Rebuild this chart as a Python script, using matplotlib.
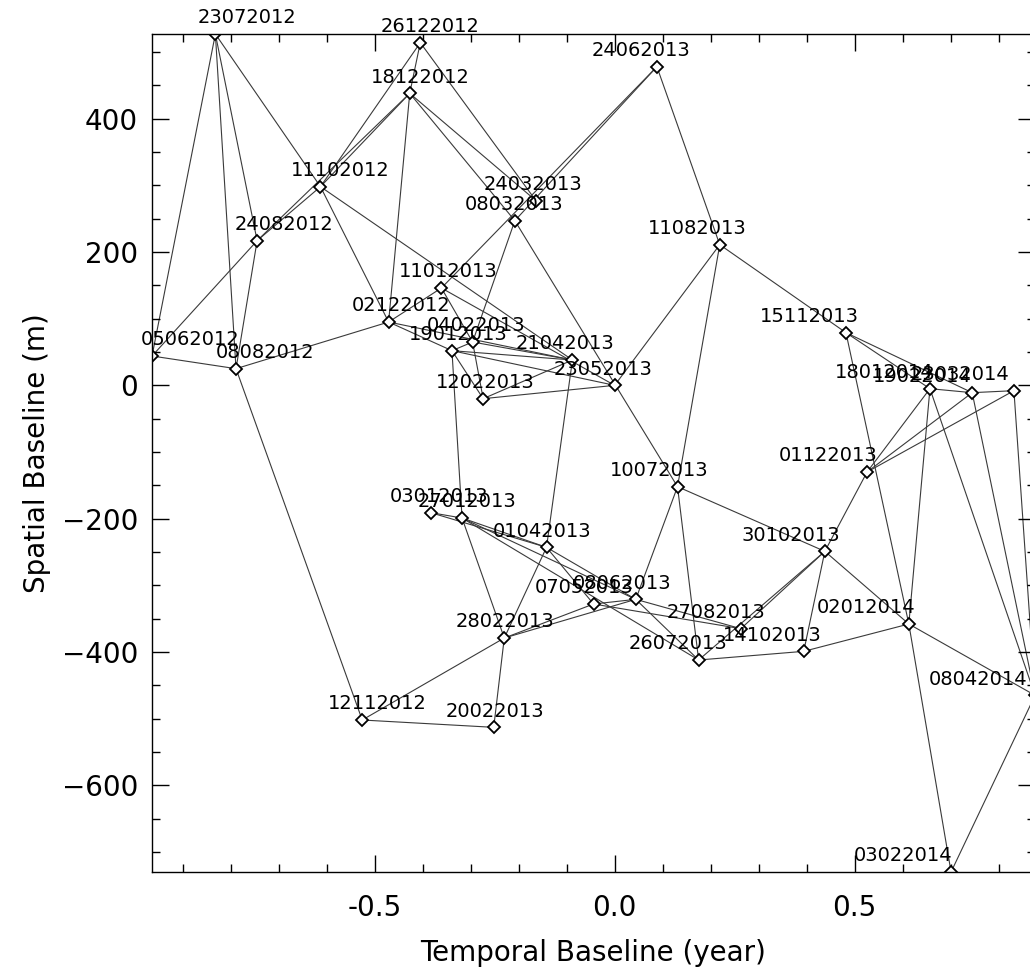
import numpy as np
import matplotlib
matplotlib.use('Agg')
import matplotlib.pyplot as plt
from matplotlib.ticker import MultipleLocator

# acquisition dates (ddmmyyyy), temporal baseline (year) and spatial baseline (m)
dates = ['05062012', '23072012', '08082012', '24082012', '11102012', '12112012',
         '02122012', '18122012', '26122012', '03012013', '11012013', '19012013',
         '27012013', '04022013', '12022013', '20022013', '28022013', '08032013',
         '24032013', '01042013', '21042013', '07052013', '23052013', '08062013',
         '24062013', '10072013', '26072013', '11082013', '27082013', '14102013',
         '30102013', '15112013', '01122013', '02012014', '18012014', '03022014',
         '19022014', '23032014', '08042014']
tbase = [-0.964, -0.832, -0.789, -0.745, -0.613, -0.526,
         -0.471, -0.427, -0.405, -0.383, -0.361, -0.339,
         -0.318, -0.296, -0.274, -0.252, -0.230, -0.208,
         -0.164, -0.142, -0.088, -0.044, 0.0, 0.044,
         0.088, 0.131, 0.175, 0.219, 0.263, 0.394,
         0.438, 0.482, 0.526, 0.613, 0.657, 0.701,
         0.745, 0.832, 0.876]
sbase = [44, 527, 25, 217, 298, -502,
         95, 438, 514, -191, 146, 52,
         -199, 65, -20, -513, -379, 247,
         277, -243, 38, -328, 0, -321,
         478, -152, -412, 211, -365, -399,
         -249, 79, -130, -358, -5, -730,
         -11, -8, -465]

# interferometric pairs
pairs = [('05062012', '23072012'), ('05062012', '24082012'), ('05062012', '08082012'),
         ('23072012', '08082012'), ('23072012', '24082012'), ('23072012', '11102012'),
         ('08082012', '24082012'), ('08082012', '02122012'), ('08082012', '12112012'),
         ('24082012', '11102012'), ('24082012', '18122012'), ('11102012', '18122012'),
         ('11102012', '26122012'), ('11102012', '02122012'), ('11102012', '21042013'),
         ('18122012', '26122012'), ('18122012', '02122012'), ('18122012', '08032013'),
         ('18122012', '24032013'), ('26122012', '24032013'), ('02122012', '11012013'),
         ('02122012', '19012013'), ('02122012', '21042013'), ('11012013', '24062013'),
         ('11012013', '04022013'), ('11012013', '23052013'), ('19012013', '04022013'),
         ('19012013', '12022013'), ('19012013', '21042013'), ('19012013', '23052013'),
         ('19012013', '27012013'), ('04022013', '21042013'), ('04022013', '12022013'),
         ('12022013', '23052013'), ('12022013', '21042013'), ('21042013', '01042013'),
         ('23052013', '11082013'), ('08032013', '10072013'), ('08032013', '04022013'),
         ('08032013', '24062013'), ('24062013', '11082013'), ('11082013', '15112013'),
         ('11082013', '10072013'), ('15112013', '18012014'), ('15112013', '19022014'),
         ('15112013', '02012014'), ('01122013', '18012014'), ('01122013', '19022014'),
         ('01122013', '23032014'), ('01122013', '30102013'), ('10072013', '30102013'),
         ('30102013', '02012014'), ('30102013', '26072013'), ('30102013', '27082013'),
         ('30102013', '14102013'), ('14102013', '02012014'), ('14102013', '26072013'),
         ('08062013', '27082013'), ('07052013', '27082013'), ('08062013', '26072013'),
         ('27012013', '26072013'), ('03012013', '01042013'), ('27012013', '01042013'),
         ('27012013', '08062013'), ('27012013', '28022013'), ('01042013', '28022013'),
         ('01042013', '07052013'), ('01042013', '08062013'), ('28022013', '07052013'),
         ('28022013', '08062013'), ('28022013', '12112012'), ('28022013', '20022013'),
         ('12112012', '20022013'), ('07052013', '08062013'), ('08062013', '10072013'),
         ('10072013', '26072013'), ('03012013', '27012013'), ('18012014', '19022014'),
         ('19022014', '23032014'), ('18012014', '02012014'), ('18012014', '08042014'),
         ('19022014', '08042014'), ('23032014', '08042014'), ('02012014', '08042014'),
         ('02012014', '03022014'), ('08042014', '03022014')]

t = np.array(tbase)
b = np.array(sbase, dtype=float)
idx = {d: i for i, d in enumerate(dates)}

fig = plt.figure(figsize=(10.30, 9.69), dpi=100)
ax = fig.add_axes([0.1476, 0.1001, 0.8573, 0.8648])

for d1, d2 in pairs:
    i, j = idx[d1], idx[d2]
    ax.plot([t[i], t[j]], [b[i], b[j]], color='#3a3a3a', lw=0.8, zorder=1)

ax.plot(t, b, ls='none', marker='D', ms=6.5, mfc='white', mec='black',
        mew=1.3, zorder=2)

# date labels sit above each point, pulled slightly toward the centre
for d, x, y in zip(dates, t, b):
    ax.text(0.893 * x - 0.024, y + 16, d, ha='center', va='baseline',
            fontsize=14, color='black', clip_on=False, zorder=3)

ax.set_xlim(t.min(), t.max())
ax.set_ylim(b.min(), b.max())
ax.xaxis.set_major_locator(MultipleLocator(0.5))
ax.xaxis.set_minor_locator(MultipleLocator(0.1))
ax.yaxis.set_major_locator(MultipleLocator(200))
ax.yaxis.set_minor_locator(MultipleLocator(50))
ax.tick_params(which='both', direction='in', top=True, right=True, width=1)
ax.tick_params(which='major', length=12, labelsize=20)
ax.tick_params(axis='x', which='major', pad=16)
ax.tick_params(axis='y', which='major', pad=10)
ax.tick_params(which='minor', length=6)
ax.xaxis.set_major_formatter(matplotlib.ticker.FormatStrFormatter('%.1f'))
for s in ax.spines.values():
    s.set_linewidth(1.0)

ax.set_xlabel('Temporal Baseline (year)', fontsize=20, labelpad=12)
ax.set_ylabel('Spatial Baseline (m)', fontsize=20, labelpad=8)

fig.savefig('out.png', dpi=100)
